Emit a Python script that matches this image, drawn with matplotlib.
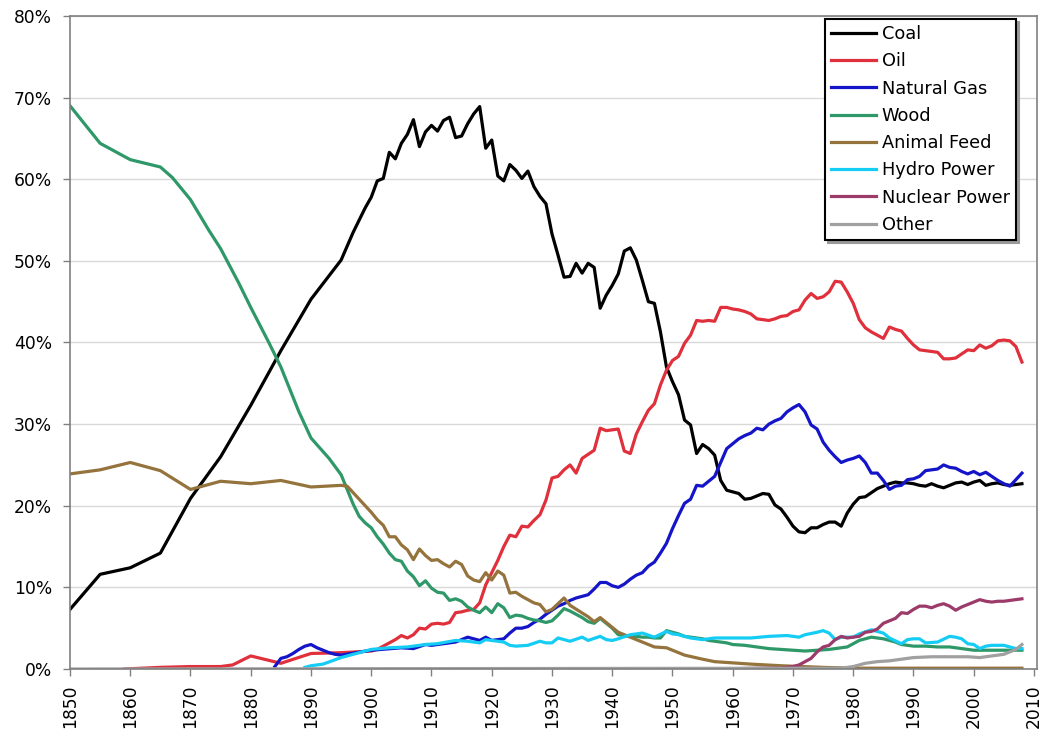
import matplotlib
matplotlib.use("Agg")
import matplotlib.pyplot as plt
from matplotlib.ticker import FuncFormatter, MultipleLocator

# share of US primary energy consumption, percent
coal_years = [1850, 1855, 1860, 1865, 1870, 1875, 1880, 1885, 1890, 1895,
              1896, 1897, 1898, 1899, 1900, 1901, 1902, 1903, 1904, 1905,
              1906, 1907, 1908, 1909, 1910, 1911, 1912, 1913, 1914, 1915,
              1916, 1917, 1918, 1919, 1920, 1921, 1922, 1923, 1924, 1925,
              1926, 1927, 1928, 1929, 1930, 1931, 1932, 1933, 1934, 1935,
              1936, 1937, 1938, 1939, 1940, 1941, 1942, 1943, 1944, 1945,
              1946, 1947, 1948, 1949, 1950, 1951, 1952, 1953, 1954, 1955,
              1956, 1957, 1958, 1959, 1960, 1961, 1962, 1963, 1964, 1965,
              1966, 1967, 1968, 1969, 1970, 1971, 1972, 1973, 1974, 1975,
              1976, 1977, 1978, 1979, 1980, 1981, 1982, 1983, 1984, 1985,
              1986, 1987, 1988, 1989, 1990, 1991, 1992, 1993, 1994, 1995,
              1996, 1997, 1998, 1999, 2000, 2001, 2002, 2003, 2004, 2005,
              2006, 2007, 2008]
coal = [7.3, 11.6, 12.4, 14.2, 20.9, 26.0, 32.3, 39.0, 45.3, 50.1,
        51.8, 53.5, 55.0, 56.5, 57.8, 59.8, 60.1, 63.3, 62.5, 64.4,
        65.5, 67.3, 64.0, 65.8, 66.6, 65.9, 67.2, 67.6, 65.1, 65.3,
        66.8, 68.0, 68.9, 63.8, 64.8, 60.4, 59.8, 61.8, 61.1, 60.1,
        61.0, 59.1, 57.9, 57.0, 53.3, 50.7, 48.0, 48.1, 49.7, 48.5,
        49.7, 49.2, 44.2, 45.8, 47.0, 48.4, 51.2, 51.6, 50.1, 47.6,
        45.0, 44.8, 41.3, 37.0, 35.2, 33.6, 30.5, 29.9, 26.4, 27.5,
        27.0, 26.2, 23.1, 21.9, 21.7, 21.5, 20.8, 20.9, 21.2, 21.5,
        21.4, 20.1, 19.6, 18.6, 17.5, 16.8, 16.7, 17.3, 17.3, 17.7,
        18.0, 18.0, 17.5, 19.1, 20.2, 21.0, 21.1, 21.6, 22.1, 22.4,
        22.7, 22.9, 22.8, 22.8, 22.7, 22.5, 22.4, 22.7, 22.4, 22.2,
        22.5, 22.8, 22.9, 22.6, 22.9, 23.1, 22.5, 22.7, 22.8, 22.6,
        22.5, 22.6, 22.7]

oil_years = [1859, 1865, 1870, 1875, 1877, 1880, 1885, 1890, 1895, 1900,
             1901, 1902, 1903, 1904, 1905, 1906, 1907, 1908, 1909, 1910,
             1911, 1912, 1913, 1914, 1915, 1916, 1917, 1918, 1919, 1920,
             1921, 1922, 1923, 1924, 1925, 1926, 1927, 1928, 1929, 1930,
             1931, 1932, 1933, 1934, 1935, 1936, 1937, 1938, 1939, 1940,
             1941, 1942, 1943, 1944, 1945, 1946, 1947, 1948, 1949, 1950,
             1951, 1952, 1953, 1954, 1955, 1956, 1957, 1958, 1959, 1960,
             1961, 1962, 1963, 1964, 1965, 1966, 1967, 1968, 1969, 1970,
             1971, 1972, 1973, 1974, 1975, 1976, 1977, 1978, 1979, 1980,
             1981, 1982, 1983, 1984, 1985, 1986, 1987, 1988, 1989, 1990,
             1991, 1992, 1993, 1994, 1995, 1996, 1997, 1998, 1999, 2000,
             2001, 2002, 2003, 2004, 2005, 2006, 2007, 2008]
oil = [0.0, 0.2, 0.3, 0.3, 0.5, 1.6, 0.7, 1.9, 2.0, 2.2,
       2.4, 2.8, 3.2, 3.6, 4.1, 3.8, 4.2, 5.0, 4.9, 5.5,
       5.6, 5.5, 5.7, 6.9, 7.0, 7.2, 7.3, 8.1, 10.3, 11.8,
       13.3, 15.0, 16.4, 16.2, 17.5, 17.4, 18.2, 18.9, 20.7, 23.4,
       23.6, 24.4, 25.0, 24.0, 25.8, 26.3, 26.8, 29.5, 29.2, 29.3,
       29.4, 26.7, 26.4, 28.8, 30.3, 31.7, 32.5, 34.8, 36.6, 37.8,
       38.3, 39.9, 40.9, 42.7, 42.6, 42.7, 42.6, 44.3, 44.3, 44.1,
       44.0, 43.8, 43.5, 42.9, 42.8, 42.7, 42.9, 43.2, 43.3, 43.8,
       44.0, 45.2, 46.0, 45.4, 45.6, 46.2, 47.5, 47.4, 46.2, 44.8,
       42.8, 41.8, 41.3, 40.9, 40.5, 41.9, 41.6, 41.4, 40.5, 39.7,
       39.1, 39.0, 38.9, 38.8, 38.0, 38.0, 38.1, 38.6, 39.1, 39.0,
       39.7, 39.3, 39.6, 40.2, 40.3, 40.2, 39.5, 37.6]

gas_years = [1884, 1885, 1886, 1887, 1888, 1889, 1890, 1891, 1892, 1893,
             1894, 1895, 1900, 1905, 1907, 1909, 1910, 1912, 1914, 1916,
             1918, 1919, 1920, 1921, 1922, 1923, 1924, 1925, 1926, 1927,
             1928, 1929, 1930, 1931, 1932, 1933, 1934, 1935, 1936, 1937,
             1938, 1939, 1940, 1941, 1942, 1943, 1944, 1945, 1946, 1947,
             1948, 1949, 1950, 1951, 1952, 1953, 1954, 1955, 1956, 1957,
             1958, 1959, 1960, 1961, 1962, 1963, 1964, 1965, 1966, 1967,
             1968, 1969, 1970, 1971, 1972, 1973, 1974, 1975, 1976, 1977,
             1978, 1979, 1980, 1981, 1982, 1983, 1984, 1985, 1986, 1987,
             1988, 1989, 1990, 1991, 1992, 1993, 1994, 1995, 1996, 1997,
             1998, 1999, 2000, 2001, 2002, 2003, 2004, 2005, 2006, 2007,
             2008]
gas = [0.3, 1.3, 1.5, 1.9, 2.4, 2.8, 3.0, 2.6, 2.3, 2.0,
       1.8, 1.7, 2.3, 2.6, 2.5, 3.0, 2.9, 3.1, 3.3, 3.9,
       3.5, 3.9, 3.5, 3.6, 3.7, 4.4, 5.0, 5.0, 5.2, 5.7,
       6.1, 6.7, 7.2, 7.7, 8.0, 8.4, 8.7, 8.9, 9.1, 9.8,
       10.6, 10.6, 10.2, 10.0, 10.4, 11.0, 11.5, 11.8, 12.6, 13.1,
       14.2, 15.4, 17.2, 18.8, 20.3, 20.8, 22.5, 22.4, 23.0, 23.6,
       25.3, 27.0, 27.6, 28.2, 28.6, 28.9, 29.5, 29.3, 30.0, 30.4,
       30.7, 31.5, 32.0, 32.4, 31.5, 29.9, 29.4, 27.8, 26.8, 26.0,
       25.3, 25.6, 25.8, 26.1, 25.3, 24.0, 24.0, 23.1, 22.0, 22.4,
       22.5, 23.2, 23.3, 23.6, 24.3, 24.4, 24.5, 25.0, 24.7, 24.6,
       24.2, 23.9, 24.2, 23.8, 24.1, 23.6, 23.1, 22.7, 22.4, 23.2,
       24.0]

wood_years = [1850, 1855, 1860, 1865, 1867, 1870, 1873, 1875, 1878, 1880,
              1883, 1885, 1888, 1890, 1893, 1895, 1896, 1897, 1898, 1899,
              1900, 1901, 1902, 1903, 1904, 1905, 1906, 1907, 1908, 1909,
              1910, 1911, 1912, 1913, 1914, 1915, 1916, 1917, 1918, 1919,
              1920, 1921, 1922, 1923, 1924, 1925, 1926, 1927, 1928, 1929,
              1930, 1931, 1932, 1933, 1934, 1935, 1936, 1937, 1938, 1939,
              1940, 1941, 1942, 1943, 1944, 1945, 1946, 1947, 1948, 1949,
              1950, 1951, 1952, 1953, 1954, 1955, 1956, 1957, 1958, 1959,
              1960, 1962, 1964, 1966, 1968, 1970, 1972, 1974, 1976, 1978,
              1979, 1980, 1981, 1982, 1983, 1984, 1985, 1986, 1987, 1988,
              1989, 1990, 1992, 1994, 1996, 1998, 2000, 2002, 2004, 2006,
              2008]
wood = [69.0, 64.4, 62.4, 61.5, 60.2, 57.5, 53.8, 51.5, 47.3, 44.3,
        40.0, 37.0, 31.5, 28.3, 25.8, 23.8, 22.0, 20.2, 18.7, 17.9,
        17.3, 16.2, 15.3, 14.2, 13.4, 13.2, 12.0, 11.3, 10.2, 10.8,
        9.9, 9.4, 9.3, 8.4, 8.6, 8.3, 7.6, 7.2, 6.9, 7.6,
        6.9, 8.0, 7.5, 6.3, 6.6, 6.5, 6.2, 6.0, 5.9, 5.7,
        5.9, 6.6, 7.4, 7.1, 6.7, 6.3, 5.8, 5.6, 6.2, 5.6,
        5.0, 4.2, 4.1, 4.0, 4.0, 3.9, 3.9, 3.8, 3.8, 4.7,
        4.5, 4.3, 4.0, 3.9, 3.8, 3.7, 3.5, 3.4, 3.3, 3.2,
        3.0, 2.9, 2.7, 2.5, 2.4, 2.3, 2.2, 2.3, 2.4, 2.6,
        2.7, 3.1, 3.5, 3.7, 3.9, 3.8, 3.7, 3.5, 3.3, 3.0,
        2.9, 2.8, 2.8, 2.7, 2.7, 2.5, 2.3, 2.3, 2.3, 2.3,
        2.3]

feed_years = [1850, 1855, 1860, 1865, 1870, 1875, 1880, 1885, 1890, 1895,
              1896, 1897, 1898, 1899, 1900, 1901, 1902, 1903, 1904, 1905,
              1906, 1907, 1908, 1909, 1910, 1911, 1912, 1913, 1914, 1915,
              1916, 1917, 1918, 1919, 1920, 1921, 1922, 1923, 1924, 1925,
              1927, 1928, 1929, 1930, 1932, 1933, 1936, 1937, 1938, 1940,
              1941, 1943, 1945, 1947, 1949, 1952, 1955, 1957, 1963, 1968,
              1975, 1980, 2008]
feed = [23.9, 24.4, 25.3, 24.3, 22.0, 23.0, 22.7, 23.1, 22.3, 22.5,
        22.4, 21.6, 20.8, 20.0, 19.2, 18.3, 17.6, 16.2, 16.2, 15.2,
        14.6, 13.4, 14.7, 13.9, 13.3, 13.4, 12.9, 12.5, 13.2, 12.8,
        11.4, 10.9, 10.7, 11.8, 10.9, 12.0, 11.5, 9.3, 9.4, 8.9,
        8.1, 7.9, 7.0, 7.3, 8.7, 7.8, 6.4, 5.8, 6.3, 5.1,
        4.5, 3.9, 3.3, 2.7, 2.6, 1.7, 1.2, 0.9, 0.6, 0.4,
        0.2, 0.1, 0.1]

hydro_years = [1889, 1890, 1892, 1895, 1898, 1900, 1903, 1906, 1909, 1911,
               1914, 1916, 1918, 1919, 1921, 1922, 1923, 1924, 1926, 1928,
               1929, 1930, 1931, 1933, 1935, 1936, 1938, 1939, 1940, 1941,
               1943, 1944, 1945, 1947, 1949, 1950, 1951, 1953, 1955, 1957,
               1960, 1963, 1966, 1969, 1971, 1972, 1974, 1975, 1976, 1977,
               1978, 1980, 1981, 1983, 1984, 1985, 1986, 1988, 1989, 1990,
               1991, 1992, 1994, 1996, 1997, 1998, 1999, 2000, 2001, 2002,
               2003, 2005, 2006, 2007, 2008]
hydro = [0.2, 0.4, 0.6, 1.4, 2.0, 2.4, 2.6, 2.7, 3.0, 3.1,
         3.5, 3.4, 3.2, 3.6, 3.4, 3.3, 2.9, 2.8, 2.9, 3.4,
         3.2, 3.2, 3.8, 3.4, 3.9, 3.5, 4.0, 3.6, 3.5, 3.7,
         4.2, 4.3, 4.4, 3.9, 4.6, 4.3, 4.2, 3.8, 3.6, 3.8,
         3.8, 3.8, 4.0, 4.1, 3.9, 4.2, 4.5, 4.7, 4.4, 3.6,
         3.9, 3.9, 4.3, 4.8, 4.6, 4.4, 3.8, 3.1, 3.6, 3.7,
         3.7, 3.2, 3.3, 4.0, 3.9, 3.7, 3.1, 3.0, 2.5, 2.8,
         2.9, 2.9, 2.7, 2.5, 2.5]

nuclear_years = [1957, 1965, 1968, 1970, 1971, 1972, 1973, 1974, 1975, 1976,
                 1977, 1978, 1979, 1980, 1981, 1982, 1983, 1984, 1985, 1986,
                 1987, 1988, 1989, 1990, 1991, 1992, 1993, 1994, 1995, 1996,
                 1997, 1998, 1999, 2000, 2001, 2002, 2003, 2004, 2005, 2006,
                 2007, 2008]
nuclear = [0.0, 0.1, 0.1, 0.3, 0.5, 0.9, 1.3, 2.1, 2.7, 2.9,
           3.6, 4.0, 3.8, 3.9, 4.0, 4.5, 4.6, 4.9, 5.6, 5.9,
           6.2, 6.9, 6.8, 7.3, 7.7, 7.7, 7.5, 7.8, 8.0, 7.7,
           7.2, 7.6, 7.9, 8.2, 8.5, 8.3, 8.2, 8.3, 8.3, 8.4,
           8.5, 8.6]

other_years = [1850, 1978, 1980, 1982, 1984, 1986, 1988, 1990, 1993, 1996,
               1999, 2001, 2003, 2005, 2006, 2007, 2008]
other = [0.0, 0.1, 0.3, 0.7, 0.9, 1.0, 1.2, 1.4, 1.5, 1.5,
         1.5, 1.4, 1.6, 1.8, 2.1, 2.4, 3.0]

series = [
    ("Coal", coal_years, coal, "#000000"),
    ("Oil", oil_years, oil, "#e0303c"),
    ("Natural Gas", gas_years, gas, "#1414c8"),
    ("Wood", wood_years, wood, "#2e9868"),
    ("Animal Feed", feed_years, feed, "#94733c"),
    ("Hydro Power", hydro_years, hydro, "#14ccf4"),
    ("Nuclear Power", nuclear_years, nuclear, "#9c3a6a"),
    ("Other", other_years, other, "#a0a0a0"),
]

plt.rcParams['font.family'] = ['DejaVu Sans']

W, H = 1045, 730
fig = plt.figure(figsize=(W / 100, H / 100), dpi=100)
ax = fig.add_axes([70 / W, 1 - 669 / H, (1037 - 70) / W, (669 - 16) / H])

for name, xs, ys, col in series:
    ax.plot(xs, ys, color=col, lw=2.3, label=name, solid_joinstyle='round')

ax.set_xlim(1850, 2010.5)
ax.set_ylim(0, 80)
ax.xaxis.set_major_locator(MultipleLocator(10))
ax.yaxis.set_major_locator(MultipleLocator(10))
ax.yaxis.set_major_formatter(FuncFormatter(lambda v, p: f"{v:.0f}%"))
ax.grid(axis='y', color='#d9d9d9', lw=1)
ax.set_axisbelow(True)

for s in ax.spines.values():
    s.set_color('#808080')
    s.set_linewidth(1.2)
ax.tick_params(axis='both', direction='out', length=5, width=1, color='#808080',
               labelsize=12.3)
ax.tick_params(axis='y', pad=8)
ax.tick_params(axis='x', pad=6, labelrotation=90)

leg = ax.legend(loc='upper right', bbox_to_anchor=(1016 / W, 1 - 19 / H),
                bbox_transform=fig.transFigure, borderaxespad=0,
                fontsize=12.8, frameon=True, fancybox=False,
                shadow={'color': '#9a9a9a', 'alpha': 1.0},
                edgecolor='black', framealpha=1, handlelength=2.5,
                handletextpad=0.35, labelspacing=0.52, borderpad=0.35)
leg.get_frame().set_linewidth(1.5)
for line in leg.get_lines():
    line.set_linewidth(2.3)

fig.savefig("out.png", dpi=100)
